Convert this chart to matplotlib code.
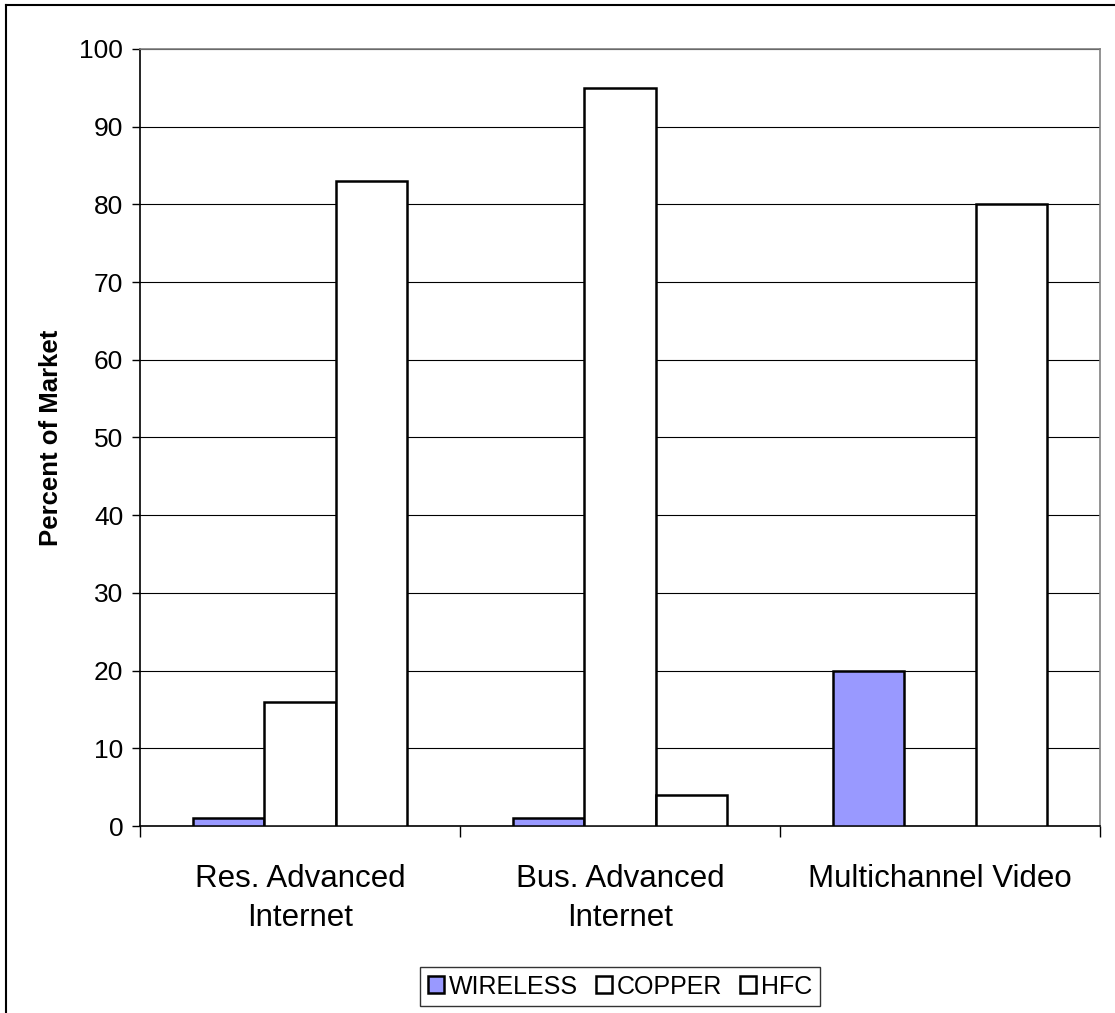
import numpy as np
import matplotlib.pyplot as plt
from matplotlib.lines import Line2D
from matplotlib.transforms import blended_transform_factory

plt.rcParams['font.family'] = ['Liberation Sans', 'DejaVu Sans']

categories = ['Res. Advanced\nInternet', 'Bus. Advanced\nInternet', 'Multichannel Video']
series = ['WIRELESS', 'COPPER', 'HFC']
wireless = [1, 1, 20]
copper = [16, 95, np.nan]
hfc = [83, 4, 80]
colors = ['#9999FF', 'white', 'white']
yticks = [0, 10, 20, 30, 40, 50, 60, 70, 80, 90, 100]

fig = plt.figure(figsize=(11.15, 10.13), dpi=100)
ax = fig.add_axes([140/1115, 1 - 826/1013, 960/1115, 777/1013])

# Excel-style clustered columns: gap width 150%
width = 1 / 4.5
x = np.arange(len(categories))
for i, (vals, col, name) in enumerate(zip([wireless, copper, hfc], colors, series)):
    ax.bar(x + (i - 1) * width, vals, width, color=col, edgecolor='black',
           linewidth=1.8, label=name, zorder=3)

ax.set_xlim(-0.5, len(categories) - 0.5)
ax.set_ylim(0, 100)
ax.set_yticks(yticks)
ax.tick_params(axis='y', labelsize=19, length=6, width=1, direction='out', pad=6)
ax.set_xticks(np.arange(len(categories) + 1) - 0.5)
ax.set_xticklabels([])
ax.set_xticks(x, minor=True)
ax.set_xticklabels(categories, minor=True, fontsize=22.5, linespacing=1.42)
ax.tick_params(axis='x', which='major', length=8, width=1, direction='out')
ax.tick_params(axis='x', which='minor', length=0, pad=27)

ax.yaxis.grid(True, color='black', linewidth=0.8, zorder=0)
for side in ['top', 'right']:
    ax.spines[side].set_color('#808080')
    ax.spines[side].set_linewidth(1.2)
ax.spines['left'].set_linewidth(1.2)
ax.spines['bottom'].set_linewidth(1.2)

ax.set_ylabel('Percent of Market', fontsize=18.5, fontweight='bold', labelpad=12)

# legend centred under the plot area, near the bottom edge of the figure
trans = blended_transform_factory(ax.transAxes, fig.transFigure)
leg = ax.legend(loc='lower center', bbox_to_anchor=(0.5, 7/1013), bbox_transform=trans,
                ncol=3, fontsize=18, frameon=True, fancybox=False, edgecolor='black',
                handlelength=0.65, handleheight=0.65, handletextpad=0.2, columnspacing=0.7,
                borderpad=0.3, borderaxespad=0)
leg.get_frame().set_linewidth(1.0)

# outer chart border (left and top edges)
fig.add_artist(Line2D([6/1115, 6/1115], [0, 1 - 5/1013], color='black', linewidth=1.5,
                      transform=fig.transFigure))
fig.add_artist(Line2D([6/1115, 1], [1 - 5/1013, 1 - 5/1013], color='black', linewidth=1.5,
                      transform=fig.transFigure))

fig.savefig('out.png', dpi=100)
